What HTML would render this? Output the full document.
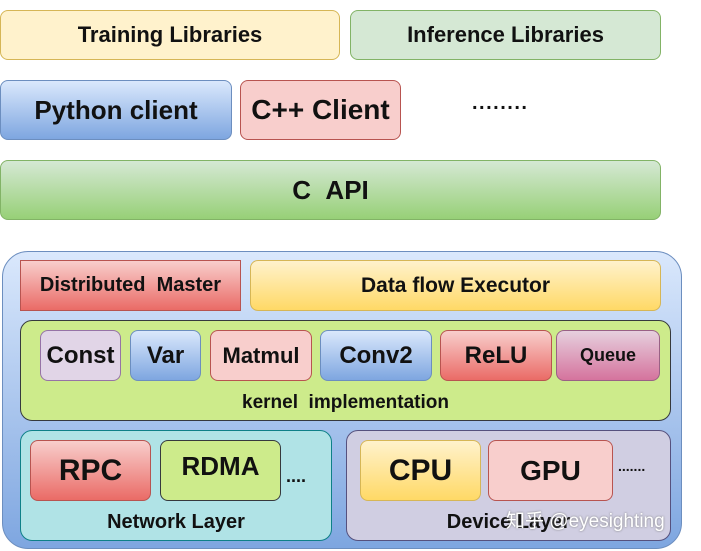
<!DOCTYPE html>
<html><head><style>
body{margin:0;width:701px;height:551px;background:#fff;position:relative;overflow:hidden;font-family:"Liberation Sans",Arial,sans-serif;font-weight:bold;color:#111}
.b{position:absolute;box-sizing:border-box;border:1.5px solid #999;border-radius:8px;display:flex;align-items:center;justify-content:center;text-align:center}
.t{position:absolute;white-space:nowrap}
</style></head><body>
<div class="b" style="left:0;top:10px;width:340px;height:50px;background:#fff2cc;border-color:#d6b656;font-size:22px">Training Libraries</div>
<div class="b" style="left:350px;top:10px;width:311px;height:50px;background:#d5e8d4;border-color:#82b366;font-size:22px">Inference Libraries</div>
<div class="b" style="left:0;top:80px;width:232px;height:60px;background:linear-gradient(#dae8fc,#7ea6e0);border-color:#6c8ebf;font-size:26px">Python client</div>
<div class="b" style="left:240px;top:80px;width:161px;height:60px;background:#f8cecc;border-color:#b85450;font-size:28px">C++ Client</div>
<div class="t" style="left:472px;top:92px;font-size:20px;letter-spacing:1.5px">........</div>
<div class="b" style="left:0;top:160px;width:661px;height:60px;background:linear-gradient(#d5e8d4,#97d077);border-color:#82b366;font-size:26px">C&nbsp;&nbsp;API</div>

<div class="b" style="left:2px;top:251px;width:680px;height:298px;border-radius:26px;background:linear-gradient(#dae8fc,#7ea6e0);border-color:#6c8ebf"></div>
<div class="b" style="left:20px;top:260px;width:221px;height:51px;border-radius:0;background:linear-gradient(#f8cecc,#ea6b66);border-color:#b85450;font-size:20px">Distributed&nbsp; Master</div>
<div class="b" style="left:250px;top:260px;width:411px;height:51px;background:linear-gradient(#fff2cc,#ffd966);border-color:#d6b656;font-size:21px">Data flow Executor</div>

<div class="b" style="left:20px;top:320px;width:651px;height:101px;border-radius:12px;background:#cdeb8b;border-color:#36393d;align-items:flex-end;padding-bottom:6px;font-size:19px">kernel&nbsp; implementation</div>
<div class="b" style="left:40px;top:330px;width:81px;height:51px;background:#e1d5e7;border-color:#9673a6;font-size:24px">Const</div>
<div class="b" style="left:130px;top:330px;width:71px;height:51px;background:linear-gradient(#dae8fc,#7ea6e0);border-color:#6c8ebf;font-size:24px">Var</div>
<div class="b" style="left:210px;top:330px;width:102px;height:51px;background:#f8cecc;border-color:#b85450;font-size:22px">Matmul</div>
<div class="b" style="left:320px;top:330px;width:112px;height:51px;background:linear-gradient(#dae8fc,#7ea6e0);border-color:#6c8ebf;font-size:24px">Conv2</div>
<div class="b" style="left:440px;top:330px;width:112px;height:51px;background:linear-gradient(#f8cecc,#ea6b66);border-color:#b85450;font-size:24px">ReLU</div>
<div class="b" style="left:556px;top:330px;width:104px;height:51px;background:linear-gradient(#e6d0de,#d5739d);border-color:#996185;font-size:18px">Queue</div>

<div class="b" style="left:20px;top:430px;width:312px;height:111px;border-radius:12px;background:#b0e3e6;border-color:#0e8088;align-items:flex-end;padding-bottom:6px;font-size:20px">Network Layer</div>
<div class="b" style="left:30px;top:440px;width:121px;height:61px;background:linear-gradient(#f8cecc,#ea6b66);border-color:#b85450;font-size:30px">RPC</div>
<div class="b" style="left:160px;top:440px;width:121px;height:61px;background:#cdeb8b;border-color:#36393d;font-size:26px;align-items:flex-start;padding-top:10px">RDMA</div>
<div class="t" style="left:286px;top:466px;font-size:18px">....</div>
<div class="b" style="left:346px;top:430px;width:325px;height:111px;border-radius:12px;background:#d0cee2;border-color:#56517e;align-items:flex-end;padding-bottom:6px;font-size:20px">Device Layer</div>
<div class="b" style="left:360px;top:440px;width:121px;height:61px;background:linear-gradient(#fff2cc,#ffd966);border-color:#d6b656;font-size:30px">CPU</div>
<div class="b" style="left:488px;top:440px;width:125px;height:61px;background:#f8cecc;border-color:#b85450;font-size:28px">GPU</div>
<div class="t" style="left:618px;top:458px;font-size:14px">.......</div>
<div class="t" style="left:506px;top:506px;font-size:19px;font-weight:normal;color:#fff;text-shadow:0 0 2px #777;font-family:'Liberation Sans','Noto Sans CJK SC',sans-serif">知乎 @eyesighting</div>
</body></html>
